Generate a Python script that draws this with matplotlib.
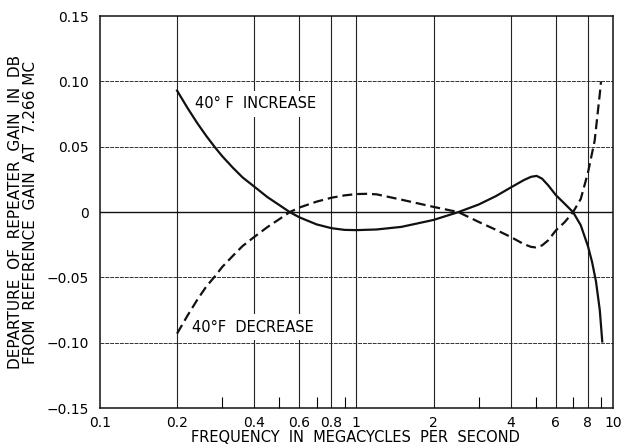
import matplotlib.pyplot as plt
from matplotlib.ticker import FixedLocator, NullFormatter

# values (MHz, dB)
freq_inc = [0.2, 0.22, 0.24, 0.26, 0.28, 0.3, 0.33, 0.36, 0.4, 0.45, 0.5, 0.55,
            0.6, 0.7, 0.8, 0.9, 1.0, 1.2, 1.5, 2.0, 2.5, 3.0, 3.5, 4.0, 4.5, 4.8,
            5.05, 5.3, 5.6, 6.0, 6.5, 7.0, 7.5, 8.0, 8.3, 8.6, 8.9, 9.1]
gain_inc = [0.093, 0.0795, 0.068, 0.0583, 0.050, 0.0428, 0.034, 0.0266, 0.0195,
            0.0115, 0.0055, 0.0, -0.004, -0.0094, -0.0123, -0.0136, -0.0138,
            -0.0133, -0.0113, -0.006, 0.0, 0.0058, 0.0122, 0.0188, 0.0245,
            0.027, 0.0277, 0.0256, 0.0205, 0.013, 0.0063, 0.0, -0.010, -0.026,
            -0.038, -0.053, -0.075, -0.099]

freq_dec = [0.2, 0.22, 0.24, 0.26, 0.28, 0.3, 0.33, 0.36, 0.4, 0.45, 0.5, 0.55,
            0.6, 0.7, 0.8, 0.9, 1.0, 1.1, 1.2, 1.5, 2.0, 2.5, 3.0, 3.5, 4.0, 4.5,
            4.8, 5.0, 5.3, 5.6, 6.0, 6.5, 7.0, 7.5, 8.0, 8.5, 8.9, 9.0]
gain_dec = [-0.093, -0.079, -0.067, -0.057, -0.0495, -0.042, -0.0335, -0.026,
            -0.019, -0.0115, -0.0055, 0.0, 0.0035, 0.008, 0.011, 0.0128, 0.0138,
            0.014, 0.0136, 0.0095, 0.004, 0.0, -0.0075, -0.0135, -0.019, -0.0245,
            -0.0266, -0.027, -0.0255, -0.0216, -0.014, -0.0076, 0.0, 0.010,
            0.030, 0.0547, 0.0904, 0.100]

x_major = [0.1, 0.2, 0.4, 0.6, 0.8, 1, 2, 4, 6, 8, 10]
x_labels = ['0.1', '0.2', '0.4', '0.6', '0.8', '1', '2', '4', '6', '8', '10']
x_minor = [0.3, 0.5, 0.7, 0.9, 3, 5, 7, 9]
y_ticks = [-0.15, -0.10, -0.05, 0, 0.05, 0.10, 0.15]
y_labels = ['\u22120.15', '\u22120.10', '\u22120.05', '0', '0.05', '0.10', '0.15']

plt.rcParams['font.family'] = ['DejaVu Sans']

fig = plt.figure(figsize=(6.24, 4.47), dpi=100)
ax = fig.add_axes([0.160, 0.087, 0.822, 0.877])

ax.set_xscale('log')
ax.set_xlim(0.1, 10)
ax.set_ylim(-0.15, 0.15)

# grid
for xv in x_major[1:-1]:
    ax.axvline(xv, color='#222222', lw=0.8, zorder=1)
for yv in [-0.10, -0.05, 0.05, 0.10]:
    ax.axhline(yv, color='#333333', lw=0.7, ls=(0, (4, 1)), zorder=1)
ax.axhline(0, color='#111111', lw=1.0, zorder=1)

ax.plot(freq_inc, gain_inc, color='#111111', lw=1.6, zorder=3)
ax.plot(freq_dec, gain_dec, color='#111111', lw=1.6, ls=(0, (4.5, 2.2)), zorder=3)

ax.text(0.234, 0.083, '40\u00b0 F  INCREASE', fontsize=10.5, va='center', ha='left',
        bbox=dict(facecolor='white', edgecolor='none', pad=4), zorder=2)
ax.text(0.228, -0.088, '40\u00b0F  DECREASE', fontsize=10.5, va='center', ha='left',
        bbox=dict(facecolor='white', edgecolor='none', pad=4), zorder=2)

ax.xaxis.set_major_locator(FixedLocator(x_major))
ax.set_xticklabels(x_labels)
ax.xaxis.set_minor_locator(FixedLocator(x_minor))
ax.xaxis.set_minor_formatter(NullFormatter())
ax.tick_params(axis='x', which='major', length=0, pad=6, labelsize=10)
ax.tick_params(axis='x', which='minor', direction='in', length=8, width=0.8)
ax.set_yticks(y_ticks)
ax.set_yticklabels(y_labels)
ax.tick_params(axis='y', length=0, pad=8, labelsize=10)

for s in ax.spines.values():
    s.set_linewidth(1.1)
    s.set_color('#111111')

fig.text(0.57, 0.022, 'FREQUENCY  IN  MEGACYCLES  PER  SECOND', fontsize=10.5,
         ha='center', va='center')
ax.set_ylabel('DEPARTURE  OF  REPEATER  GAIN  IN  DB\nFROM  REFERENCE  GAIN  AT  7.266 MC',
              fontsize=11, labelpad=6, linespacing=1.0)

fig.savefig('out.png', dpi=100)
